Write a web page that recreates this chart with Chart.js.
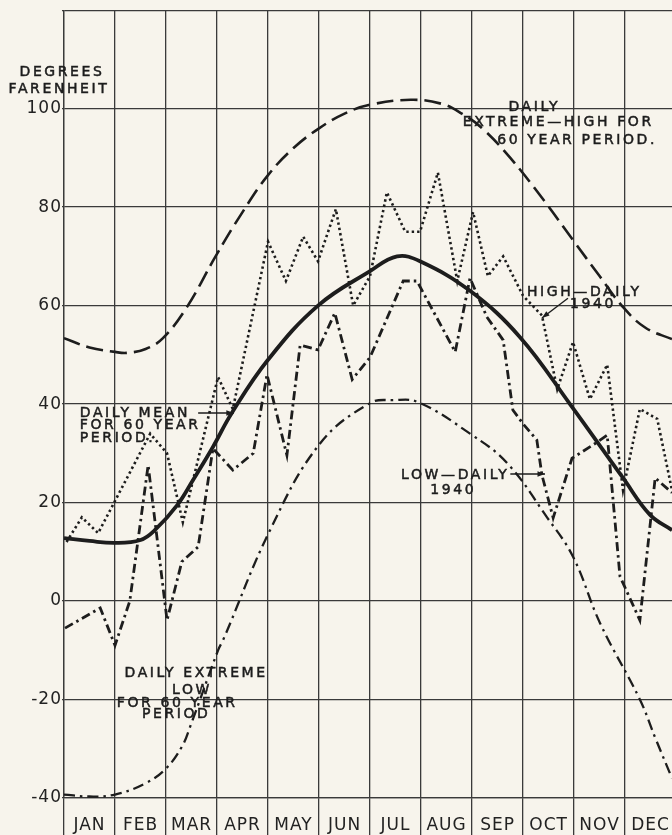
<!DOCTYPE html>
<html>
<head>
<meta charset="utf-8">
<script src="https://cdn.jsdelivr.net/npm/chart.js@4.4.1/dist/chart.umd.min.js"></script>
<style>
  html, body { margin: 0; padding: 0; background: #f7f4ec; overflow: hidden; }
  canvas { display: block; }
</style>
</head>
<body>
<canvas id="chartTemp" width="672" height="835"></canvas>
<script>
// x values are in months from Jan 1 (0 = Jan 1, 12 = Dec 31)
const months = ["JAN", "FEB", "MAR", "APR", "MAY", "JUN", "JUL", "AUG", "SEP", "OCT", "NOV", "DEC"];
const yTicks = [-40, -20, 0, 20, 40, 60, 80, 100, 120];

const extremeHighX = [0, 0.5, 1.0, 1.23, 1.6, 1.94, 2.41, 2.96, 3.5, 4.0, 4.5, 5.0, 5.5, 6.0, 6.8, 7.4, 7.8, 8.2, 8.75, 9.4, 9.98, 10.5, 10.96, 11.4, 11.92];
const extremeHighY = [53.4, 51.5, 50.6, 50.4, 51.2, 53.4, 59.7, 69.8, 79, 86.5, 92, 96, 99, 100.8, 101.8, 101, 99, 96, 90, 81.5, 73.3, 66, 59.7, 55.5, 53.2];

const meanX = [0, 0.5, 1.0, 1.5, 1.78, 2.22, 2.53, 2.92, 3.29, 4.0, 4.98, 6.0, 6.53, 6.98, 7.96, 8.94, 9.92, 10.96, 11.49, 11.92];
const meanY = [12.8, 12.2, 11.8, 12.4, 14.4, 19.5, 24.6, 31.3, 38.2, 49, 60, 67, 70, 69, 63, 53.6, 40, 25, 17.5, 14.4];

const high1940X = [0.05, 0.35, 0.67, 1.69, 2.02, 2.33, 3.02, 3.31, 4.0, 4.35, 4.69, 4.98, 5.33, 5.67, 6.0, 6.33, 6.69, 6.98, 7.33, 7.71, 8.02, 8.31, 8.61, 9.0, 9.37, 9.67, 9.98, 10.31, 10.65, 10.96, 11.29, 11.63, 11.92];
const high1940Y = [12, 17, 13.8, 34, 30, 16, 45.5, 39, 73, 65, 74, 69, 79.6, 60, 66, 83, 75, 75, 87, 65, 79, 66, 70, 62, 58, 43, 52.6, 41, 48, 22.5, 39, 37, 22.5];

const low1940X = [0.02, 0.71, 1.0, 1.29, 1.65, 2.02, 2.31, 2.63, 2.92, 3.31, 3.71, 3.98, 4.37, 4.63, 4.98, 5.31, 5.65, 6.0, 6.65, 6.92, 7.67, 7.96, 8.29, 8.61, 8.8, 9.0, 9.27, 9.37, 9.59, 9.96, 10.37, 10.65, 10.9, 11.29, 11.59, 11.92];
const low1940Y = [-5.5, -1.4, -9, 0, 27.6, -3.9, 8, 11, 31, 26.6, 30, 46, 29.6, 52, 51, 58.5, 45, 49.5, 65, 65, 50.6, 65.6, 57.7, 53, 38.8, 36, 32.7, 25.6, 16.9, 29, 31.7, 33.7, 5, -3.9, 25, 22];

const extremeLowX = [0, 0.5, 1.0, 1.6, 2.0, 2.31, 2.47, 3.02, 3.12, 4.04, 5.02, 6.0, 6.45, 6.94, 7.96, 8.69, 9.47, 9.98, 10.51, 11.29, 11.6, 11.92];
const extremeLowY = [-39.3, -39.7, -39.3, -37, -34, -29.6, -25.6, -10, -7.9, 14.4, 32, 40.2, 40.8, 40.4, 34, 28, 17, 9, -4.5, -20, -28, -36];

const pts = (xs, ys) => xs.map((x, i) => ({ x: x, y: ys[i] }));

const ink = "#1d1d1d";
const gridInk = "#3a3a3a";

// notes: text lines with x (months) and y (degrees) of each line
const notes = [
  { lines: ["DAILY", "EXTREME—HIGH FOR", "60 YEAR PERIOD."], xs: [9.22, 9.69, 10.06], ys: [100.3, 97.3, 93.6] },
  { lines: ["DAILY MEAN", "FOR 60 YEAR", "PERIOD."], xs: [0.31, 0.31, 0.31], ys: [38.2, 35.7, 33.1], align: "left" },
  { lines: ["LOW—DAILY", "1940"], xs: [7.67, 7.63], ys: [25.6, 22.5] },
  { lines: ["HIGH—DAILY", "1940"], xs: [10.2, 10.37], ys: [62.7, 60.3] },
  { lines: ["DAILY EXTREME", "LOW", "FOR 60 YEAR", "PERIOD"], xs: [2.59, 2.51, 2.22, 2.2], ys: [-14.6, -18.1, -20.7, -23.1] },
];
// leader arrows: from -> to, in months / degrees
const arrows = [
  [2.63, 38.2, 3.33, 38.2],
  [8.75, 25.8, 9.43, 25.8],
  [9.88, 61.5, 9.37, 57.5],
];

function inkText(c, t, x, y) {
  c.fillText(t, x, y);
  c.strokeText(t, x, y);
}

const paper = {
  id: "paper",
  beforeDraw(chart) {
    const c = chart.ctx;
    c.save();
    c.fillStyle = "#f7f4ec";
    c.fillRect(0, 0, chart.width, chart.height);
    c.restore();
    c.letterSpacing = "1px";
  },
  afterDatasetsDraw(chart) {
    const c = chart.ctx;
    const sx = chart.scales.x, sy = chart.scales.y;
    c.save();
    c.fillStyle = ink;
    c.strokeStyle = ink;
    c.lineWidth = 0.5;
    c.font = "14px 'DejaVu Sans'";
    c.letterSpacing = "2.6px";
    c.textBaseline = "middle";
    notes.forEach((n) => {
      c.textAlign = n.align || "center";
      n.lines.forEach((t, i) => {
        inkText(c, t, sx.getPixelForValue(n.xs[i]), sy.getPixelForValue(n.ys[i]));
      });
    });
    c.lineWidth = 1.4;
    arrows.forEach((a) => {
      const x1 = sx.getPixelForValue(a[0]), y1 = sy.getPixelForValue(a[1]);
      const x2 = sx.getPixelForValue(a[2]), y2 = sy.getPixelForValue(a[3]);
      c.beginPath();
      c.moveTo(x1, y1);
      c.lineTo(x2, y2);
      c.stroke();
      const ang = Math.atan2(y2 - y1, x2 - x1);
      c.beginPath();
      c.moveTo(x2, y2);
      c.lineTo(x2 - 8 * Math.cos(ang - 0.35), y2 - 8 * Math.sin(ang - 0.35));
      c.lineTo(x2 - 8 * Math.cos(ang + 0.35), y2 - 8 * Math.sin(ang + 0.35));
      c.closePath();
      c.fill();
    });
    // axis title
    c.lineWidth = 0.5;
    c.font = "14px 'DejaVu Sans'";
    c.letterSpacing = "2.6px";
    c.textAlign = "center";
    inkText(c, "DEGREES", 62, 72);
    inkText(c, "FARENHEIT", 59, 89);
    c.restore();
  },
};

new Chart(document.getElementById("chartTemp"), {
  type: "line",
  data: {
    datasets: [
      {
        data: pts(extremeHighX, extremeHighY),
        borderColor: ink,
        borderWidth: 2.6,
        borderDash: [17, 7],
        tension: 0.4,
      },
      {
        data: pts(meanX, meanY),
        borderColor: ink,
        borderWidth: 3.8,
        tension: 0.4,
      },
      {
        data: pts(high1940X, high1940Y),
        borderColor: ink,
        borderWidth: 2.6,
        borderDash: [2.4, 3],
        tension: 0,
      },
      {
        data: pts(low1940X, low1940Y),
        borderColor: ink,
        borderWidth: 2.8,
        borderDash: [9, 4, 2.5, 4],
        tension: 0,
      },
      {
        data: pts(extremeLowX, extremeLowY),
        borderColor: ink,
        borderWidth: 2.3,
        borderDash: [11, 5, 2.5, 5],
        tension: 0.4,
      },
    ],
  },
  options: {
    responsive: false,
    animation: false,
    events: [],
    elements: { point: { radius: 0 } },
    layout: { padding: { top: 10, right: 0, left: 0, bottom: 0 } },
    plugins: {
      legend: { display: false },
      tooltip: { enabled: false },
    },
    scales: {
      x: {
        type: "linear",
        min: 0,
        max: 11.92,
        afterBuildTicks: (axis) => {
          const t = [];
          for (let i = 0; i < 24; i++) t.push({ value: i / 2 });
          axis.ticks = t;
        },
        afterFit: (axis) => { axis.height = 37; },
        grid: {
          color: (ctx) => (ctx.tick && ctx.tick.value % 1 === 0 ? gridInk : "rgba(0,0,0,0)"),
          lineWidth: 1.3,
          tickLength: 37,
        },
        border: { display: true, color: gridInk, width: 1.3 },
        ticks: {
          autoSkip: false,
          maxRotation: 0,
          padding: -20,
          color: "#222",
          font: { family: "'DejaVu Sans'", size: 17 },
          callback: (v) => (v % 1 === 0.5 ? months[Math.floor(v)] : ""),
        },
      },
      y: {
        min: yTicks[0],
        max: yTicks[yTicks.length - 1],
        afterBuildTicks: (axis) => { axis.ticks = yTicks.map((v) => ({ value: v })); },
        afterFit: (axis) => { axis.width = 64; },
        grid: { color: gridInk, lineWidth: 1.3, tickLength: 2 },
        border: { display: true, color: gridInk, width: 1.3 },
        ticks: {
          padding: 0,
          color: "#222",
          font: { family: "'DejaVu Sans'", size: 17 },
          callback: (v) => (v === 120 ? "" : String(v)),
        },
      },
    },
  },
  plugins: [paper],
});
</script>
</body>
</html>
